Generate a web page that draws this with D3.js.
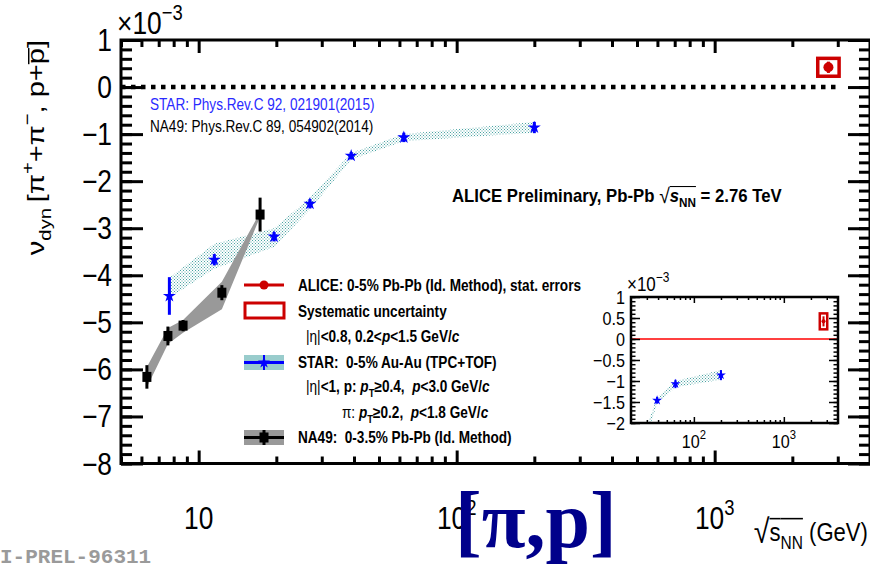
<!DOCTYPE html>
<html>
<head>
<meta charset="utf-8">
<script src="https://cdn.jsdelivr.net/npm/d3@7"></script>
<style>
body { margin: 0; background: #fff; }
svg { display: block; font-family: "Liberation Sans", Arial, Helvetica, sans-serif; }
svg text { white-space: pre; }
</style>
</head>
<body>
<svg id="chart" width="870" height="569"></svg>
<script>
// values in units of 1e-3
const starEnergy  = [7.7, 11.5, 19.6, 27, 39, 62.4, 200]
const starValue   = [-4.44, -3.67, -3.18, -2.48, -1.46, -1.07, -0.86]
const starStat    = [0.40, 0.12, 0.10, 0.10, 0.08, 0.10, 0.12]
const starSysHigh = [-4.05, -3.33, -3.00, -2.35, -1.40, -1.00, -0.74]
const starSysLow  = [-4.48, -3.86, -3.40, -2.60, -1.54, -1.15, -0.97]

const na49Energy  = [6.3, 7.6, 8.7, 12.3, 17.3]
const na49Value   = [-6.16, -5.29, -5.07, -4.37, -2.71]
const na49Stat    = [0.25, 0.20, 0.12, 0.16, 0.36]
const na49SysHigh = [-5.95, -5.12, -4.95, -4.14, -2.66]
const na49SysLow  = [-6.38, -5.46, -5.22, -4.72, -2.76]

const aliceEnergy = [2760]
const aliceValue  = [0.42]
const aliceStat   = [0.12]
const aliceSys    = [0.19]

const zeroLine = [5, 3000]

const yTicks = d3.range(-8, 2)
const yTickLabels = ["\u22128", "\u22127", "\u22126", "\u22125", "\u22124", "\u22123", "\u22122", "\u22121", "0", "1"]
const xMajor = [10, 100, 1000]
const xMinor = [5, 6, 7, 8, 9, 20, 30, 40, 50, 60, 70, 80, 90, 200, 300, 400, 500, 600, 700, 800, 900, 2000, 3000, 4000]
const insetYTicks = [-2, -1.5, -1, -0.5, 0, 0.5, 1]
const insetYLabels = ["\u22122", "\u22121.5", "\u22121", "\u22120.5", "0", "0.5", "1"]
const insetXMinor = [30, 40, 50, 60, 70, 80, 90, 200, 300, 400, 500, 600, 700, 800, 900, 2000, 3000]

const SQ = 0.85
const RED = "#cc0000", BLUE = "#0000ff"

const svg = d3.select("#chart")

// text made of pieces (sub/superscripts, italics, over-bars), squeezed like the original
function rich(parent, x, y, parts, o) {
    const size = o.size
    const g = parent.append("g")
    const inner = g.append("g")
    let cx = 0
    const bars = []
    parts.forEach(p => {
        let fs = size * (p.fs || 1)
        let dy = 0
        if (p.sub) { fs = size * 0.7; dy = size * 0.3 }
        if (p.sup) { fs = size * 0.7; dy = -size * 0.45 }
        const t = inner.append("text")
            .attr("x", cx).attr("y", dy + (p.dy || 0) * size)
            .attr("xml:space", "preserve")
            .attr("font-size", fs)
            .attr("font-weight", p.weight || o.weight || null)
            .attr("font-style", p.italic ? "italic" : null)
            .attr("font-family", o.family || null)
            .attr("fill", o.color || "#000")
            .text(p.t)
        const w = t.node().getComputedTextLength()
        if (p.bar !== undefined) bars.push([cx, cx + w, p.bar * size])
        cx += w + (p.gap || 0) * size
    })
    bars.forEach(b => inner.append("line")
        .attr("x1", b[0]).attr("x2", b[1]).attr("y1", b[2]).attr("y2", b[2])
        .attr("stroke", o.color || "#000").attr("stroke-width", Math.max(1, size * 0.06)))
    const shift = o.anchor === "end" ? -cx : o.anchor === "middle" ? -cx / 2 : 0
    inner.attr("transform", "translate(" + shift + ",0)")
    const sq = o.squeeze === undefined ? SQ : o.squeeze
    g.attr("transform", "translate(" + x + "," + y + ")" +
        (o.rotate ? " rotate(" + o.rotate + ") scale(1," + sq + ")" : " scale(" + sq + ",1)"))
    return g
}

const defs = svg.append("defs")
const pat = defs.append("pattern").attr("id", "dots")
    .attr("width", 3).attr("height", 3).attr("patternUnits", "userSpaceOnUse")
pat.append("rect").attr("width", 1).attr("height", 1).attr("fill", "#4aa3a3")
pat.append("rect").attr("x", 1.5).attr("y", 1.5).attr("width", 1).attr("height", 1).attr("fill", "#4aa3a3")

const starData = starEnergy.map((e, i) => ({ e, v: starValue[i], s: starStat[i], hi: starSysHigh[i], lo: starSysLow[i] }))
const na49Data = na49Energy.map((e, i) => ({ e, v: na49Value[i], s: na49Stat[i], hi: na49SysHigh[i], lo: na49SysLow[i] }))
const aliceData = aliceEnergy.map((e, i) => ({ e, v: aliceValue[i], s: aliceStat[i], sys: aliceSys[i] }))

// ---------------- main frame ----------------
const x = d3.scaleLog().domain([5, 4000]).range([121, 870])
const y = d3.scaleLinear().domain([-8, 1]).range([463.5, 40])

function drawFrameAxes(g, xs, ys, xm, xn, ym, yn, opt) {
    const [x0, x1] = xs.range()
    const [y0, y1] = ys.range()
    const style = a => a.call(s => s.select(".domain").remove())
        .call(s => s.selectAll("line").attr("stroke", "#000").attr("stroke-width", opt.tw))
    g.append("g").attr("transform", "translate(0," + y0 + ")")
        .call(d3.axisBottom(xs).tickValues(xm).tickSize(-opt.xMaj).tickFormat("")).call(style)
    g.append("g").attr("transform", "translate(0," + y0 + ")")
        .call(d3.axisBottom(xs).tickValues(xn).tickSize(-opt.xMin).tickFormat("")).call(style)
    g.append("g").attr("transform", "translate(0," + y1 + ")")
        .call(d3.axisTop(xs).tickValues(xm).tickSize(-opt.xMaj).tickFormat("")).call(style)
    g.append("g").attr("transform", "translate(0," + y1 + ")")
        .call(d3.axisTop(xs).tickValues(xn).tickSize(-opt.xMin).tickFormat("")).call(style)
    g.append("g").attr("transform", "translate(" + x0 + ",0)")
        .call(d3.axisLeft(ys).tickValues(ym).tickSize(-opt.yMaj).tickFormat("")).call(style)
    g.append("g").attr("transform", "translate(" + x0 + ",0)")
        .call(d3.axisLeft(ys).tickValues(yn).tickSize(-opt.yMin).tickFormat("")).call(style)
    g.append("g").attr("transform", "translate(" + x1 + ",0)")
        .call(d3.axisRight(ys).tickValues(ym).tickSize(-opt.yMaj).tickFormat("")).call(style)
    g.append("g").attr("transform", "translate(" + x1 + ",0)")
        .call(d3.axisRight(ys).tickValues(yn).tickSize(-opt.yMin).tickFormat("")).call(style)
    g.append("rect").attr("x", x0).attr("y", y1).attr("width", x1 - x0).attr("height", y0 - y1)
        .attr("fill", "none").attr("stroke", "#000").attr("stroke-width", opt.fw)
}

function drawData(g, xs, ys, opt) {
    const area = d3.area().x(d => xs(d.e)).y0(d => ys(d.lo)).y1(d => ys(d.hi))
    g.append("path").datum(starData).attr("d", area).attr("fill", "url(#dots)")
    if (opt.na49) {
        g.append("path").datum(na49Data).attr("d", area).attr("fill", "#999999")
    }
    g.append("path").datum(opt.zeroRange)
        .attr("d", d3.line().x(d => xs(d)).y(() => ys(0)))
        .attr("stroke", opt.zeroColor).attr("stroke-width", opt.zeroWidth)
        .attr("stroke-dasharray", opt.zeroDash).attr("fill", "none")

    // STAR
    g.selectAll(".starErr").data(starData).join("line")
        .attr("x1", d => xs(d.e)).attr("x2", d => xs(d.e))
        .attr("y1", d => ys(d.v + d.s)).attr("y2", d => ys(d.v - d.s))
        .attr("stroke", BLUE).attr("stroke-width", opt.ew)
    g.selectAll(".starPt").data(starData).join("path")
        .attr("transform", d => "translate(" + xs(d.e) + "," + ys(d.v) + ")")
        .attr("d", d3.symbol(d3.symbolStar).size(opt.starSize)).attr("fill", BLUE)

    if (opt.na49) {
        g.selectAll(".naErr").data(na49Data).join("line")
            .attr("x1", d => xs(d.e)).attr("x2", d => xs(d.e))
            .attr("y1", d => ys(d.v + d.s)).attr("y2", d => ys(d.v - d.s))
            .attr("stroke", "#000").attr("stroke-width", 3)
        g.selectAll(".naPt").data(na49Data).join("rect")
            .attr("x", d => xs(d.e) - 4.5).attr("y", d => ys(d.v) - 5)
            .attr("width", 9).attr("height", 10).attr("fill", "#000")
    }

    // ALICE
    g.selectAll(".alSys").data(aliceData).join("rect")
        .attr("x", d => xs(d.e / 1.1)).attr("y", d => ys(d.v + d.sys))
        .attr("width", d => xs(d.e * 1.1) - xs(d.e / 1.1))
        .attr("height", d => ys(d.v - d.sys) - ys(d.v + d.sys))
        .attr("fill", "#fff").attr("stroke", RED).attr("stroke-width", opt.boxW)
    g.selectAll(".alErr").data(aliceData).join("line")
        .attr("x1", d => xs(d.e)).attr("x2", d => xs(d.e))
        .attr("y1", d => ys(d.v + d.s)).attr("y2", d => ys(d.v - d.s))
        .attr("stroke", RED).attr("stroke-width", opt.ew)
    g.selectAll(".alPt").data(aliceData).join("circle")
        .attr("cx", d => xs(d.e)).attr("cy", d => ys(d.v)).attr("r", opt.dotR).attr("fill", RED)
}

const main = svg.append("g")
drawData(main, x, y, {
    na49: true, zeroRange: zeroLine, zeroColor: "#000", zeroWidth: 4.5, zeroDash: "4.5 5.5",
    ew: 3, starSize: 52, boxW: 3.5, dotR: 5
})
drawFrameAxes(main, x, y, xMajor, xMinor, yTicks, d3.range(-8, 1.01, 0.2),
    { xMaj: 13, xMin: 7, yMaj: 22, yMin: 11, tw: 3, fw: 3 })

// tick labels
yTicks.forEach((v, i) => rich(svg, 112, y(v) + 11, [{ t: yTickLabels[i] }], { size: 31, anchor: "end" }))
rich(svg, x(10), 529, [{ t: "10" }], { size: 31, anchor: "middle" })
rich(svg, x(100), 529, [{ t: "10" }, { t: "2", sup: true }], { size: 31, anchor: "middle" })
rich(svg, x(1000), 529, [{ t: "10" }, { t: "3", sup: true }], { size: 31, anchor: "middle" })
rich(svg, 117, 34, [{ t: "\u00d710" }, { t: "\u22123", sup: true }], { size: 31 })

// axis titles
rich(svg, 44, 40, [
    { t: "\u03bd" }, { t: "dyn", sub: true, gap: 0.2 }, { t: "[\u03c0" }, { t: "+", sup: true },
    { t: "+\u03c0" }, { t: "\u2212", sup: true }, { t: ", p+" }, { t: "p", bar: -0.62 }, { t: "]" }
], { size: 29, anchor: "end", rotate: -90 })

rich(svg, 868, 541, [
    { t: "\u221a", fs: 1.3, dy: 0.06 }, { t: "s", bar: -0.86 }, { t: "NN", sub: true, bar: -0.86 },
    { t: " (GeV)" }
], { size: 26, anchor: "end" })

// annotations
rich(svg, 150, 110, [{ t: "STAR: Phys.Rev.C 92, 021901(2015)" }], { size: 16, color: "#2a2aff" })
rich(svg, 150, 132, [{ t: "NA49: Phys.Rev.C 89, 054902(2014)" }], { size: 16 })
rich(svg, 452, 202, [
    { t: "ALICE Preliminary, Pb-Pb " }, { t: "\u221a", weight: "normal", fs: 1.15, dy: 0.04 },
    { t: "s", italic: true, bar: -0.86 }, { t: "NN", sub: true, bar: -0.86 }, { t: " = 2.76 TeV" }
], { size: 18, weight: "bold", squeeze: 0.93 })

// legend
const leg = svg.append("g")
leg.append("line").attr("x1", 244).attr("x2", 284).attr("y1", 285).attr("y2", 285).attr("stroke", RED).attr("stroke-width", 3)
leg.append("circle").attr("cx", 264).attr("cy", 285).attr("r", 4.5).attr("fill", RED)
leg.append("rect").attr("x", 245).attr("y", 303).attr("width", 39).attr("height", 15)
    .attr("fill", "none").attr("stroke", RED).attr("stroke-width", 3)
leg.append("rect").attr("x", 244).attr("y", 355).attr("width", 40).attr("height", 15).attr("fill", "#99cccc")
leg.append("line").attr("x1", 244).attr("x2", 284).attr("y1", 362.5).attr("y2", 362.5).attr("stroke", BLUE).attr("stroke-width", 3)
leg.append("line").attr("x1", 264).attr("x2", 264).attr("y1", 355).attr("y2", 370).attr("stroke", BLUE).attr("stroke-width", 2)
leg.append("path").attr("transform", "translate(264,362.5)").attr("d", d3.symbol(d3.symbolStar).size(45)).attr("fill", BLUE)
leg.append("rect").attr("x", 244).attr("y", 430).attr("width", 40).attr("height", 15).attr("fill", "#999999")
leg.append("line").attr("x1", 244).attr("x2", 284).attr("y1", 437.5).attr("y2", 437.5).attr("stroke", "#000").attr("stroke-width", 3)
leg.append("line").attr("x1", 264).attr("x2", 264).attr("y1", 430).attr("y2", 445).attr("stroke", "#000").attr("stroke-width", 3)
leg.append("rect").attr("x", 259.5).attr("y", 432.5).attr("width", 9).attr("height", 10).attr("fill", "#000")

const L = { size: 16, weight: "bold" }
rich(svg, 298, 291, [{ t: "ALICE: 0-5% Pb-Pb (Id. Method), stat. errors" }], L)
rich(svg, 298, 317, [{ t: "Systematic uncertainty" }], L)
rich(svg, 306, 342, [{ t: "|\u03b7|", weight: "normal" }, { t: "<0.8, 0.2<" }, { t: "p", italic: true }, { t: "<1.5 GeV/" }, { t: "c", italic: true }], L)
rich(svg, 298, 368, [{ t: "STAR:  0-5% Au-Au (TPC+TOF)" }], L)
rich(svg, 306, 392, [{ t: "|\u03b7|", weight: "normal" }, { t: "<1, p: " }, { t: "p", italic: true }, { t: "T", sub: true },
    { t: "\u22650.4,  " }, { t: "p", italic: true }, { t: "<3.0 GeV/" }, { t: "c", italic: true }], L)
rich(svg, 342, 418, [{ t: "\u03c0: ", weight: "normal" }, { t: "p", italic: true }, { t: "T", sub: true },
    { t: "\u22650.2,  " }, { t: "p", italic: true }, { t: "<1.8 GeV/" }, { t: "c", italic: true }], L)
rich(svg, 298, 443, [{ t: "NA49:  0-3.5% Pb-Pb (Id. Method)" }], L)

// ---------------- inset ----------------
const xi = d3.scaleLog().domain([20, 4000]).range([631, 838])
const yi = d3.scaleLinear().domain([-2, 1]).range([423, 297])
defs.append("clipPath").attr("id", "insetClip").append("rect")
    .attr("x", 631).attr("y", 297).attr("width", 207).attr("height", 126)
const inset = svg.append("g")
inset.append("rect").attr("x", 631).attr("y", 297).attr("width", 207).attr("height", 126).attr("fill", "#fff")
const insetData = inset.append("g").attr("clip-path", "url(#insetClip)")
drawData(insetData, xi, yi, {
    na49: false, zeroRange: xi.domain(), zeroColor: "#ff0000", zeroWidth: 1.5, zeroDash: null,
    ew: 2, starSize: 30, boxW: 2.5, dotR: 2
})
drawFrameAxes(inset, xi, yi, [100, 1000], insetXMinor, insetYTicks, d3.range(-2, 1.01, 0.1),
    { xMaj: 6, xMin: 3, yMaj: 9, yMin: 4.5, tw: 1.5, fw: 2.5 })
insetYTicks.forEach((v, i) => rich(svg, 625, yi(v) + 7, [{ t: insetYLabels[i] }], { size: 19, anchor: "end" }))
rich(svg, xi(100), 448, [{ t: "10" }, { t: "2", sup: true }], { size: 19, anchor: "middle" })
rich(svg, xi(1000), 448, [{ t: "10" }, { t: "3", sup: true }], { size: 19, anchor: "middle" })
rich(svg, 627, 291, [{ t: "\u00d710" }, { t: "\u22123", sup: true }], { size: 20 })

// overlay labels
rich(svg, 455, 547, [{ t: "[\u03c0,p]" }], { size: 80, weight: "bold", family: "'Liberation Serif', 'Times New Roman', serif", color: "#00008b", squeeze: 1 })
rich(svg, 0, 563, [{ t: "I-PREL-96311" }], { size: 21, weight: "bold", family: "'Liberation Mono', 'Courier New', monospace", color: "#9a9a9a", squeeze: 1 })
</script>
</body>
</html>
